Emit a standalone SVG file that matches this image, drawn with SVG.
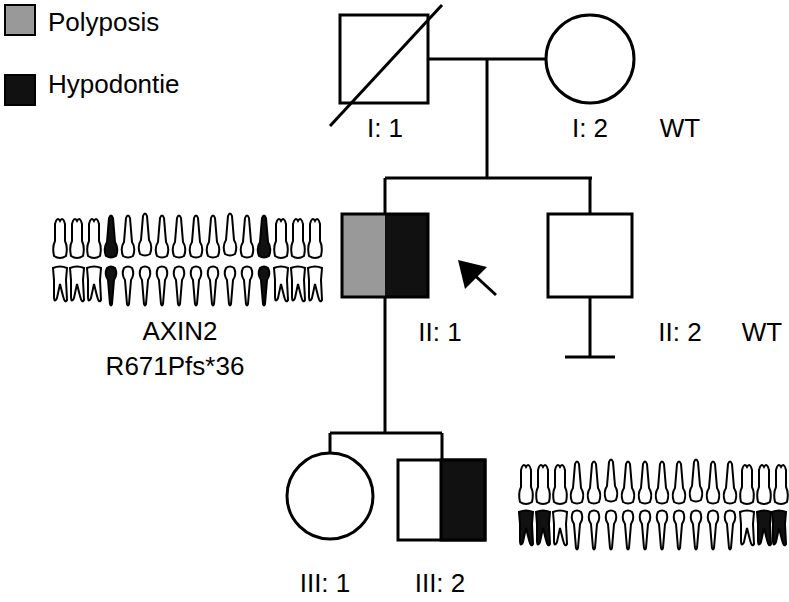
<svg xmlns="http://www.w3.org/2000/svg" xmlns:xlink="http://www.w3.org/1999/xlink" width="789" height="602" viewBox="0 0 789 602">
<style>
.s{fill:#fff;stroke:#000;stroke-width:3}
.l{stroke:#000;stroke-width:3;fill:none}
.t{font-family:"Liberation Sans",Arial,sans-serif;font-size:26px;fill:#000}
.tw{fill:#fff;stroke:#000;stroke-width:2}
.tb{fill:#111;stroke:#000;stroke-width:2}
</style>
<defs>
<path id="um" d="M2,40 Q0,31 3,25 L3,8 Q5,0 8,5 Q11,0 13,8 L13,25 Q16,31 14,40 Q8,44 2,40 Z"/>
<path id="us" d="M3,42 Q0,34 4,28 L6,4 Q8,-1 10,4 L12,28 Q16,34 13,42 Q8,45 3,42 Z"/>
<path id="lm" d="M1,2 Q8,-1 15,2 L14,14 L15,34 Q13,38 11,30 L8,18 L5,32 Q2,38 2,30 L2,14 Z"/>
<path id="ls" d="M4,2 Q8,-1 12,2 Q15,8 11,14 L9,38 Q8,41 7,38 L5,14 Q1,8 4,2 Z"/>
</defs>
<g id="legend">
<rect x="5" y="5" width="30" height="30" fill="#999" stroke="#000" stroke-width="2"/>
<text class="t" x="48" y="31">Polyposis</text>
<rect x="5" y="75" width="30" height="30" fill="#111" stroke="#000" stroke-width="2"/>
<text class="t" x="48" y="93">Hypodontie</text>
</g>
<g id="connectors">
<line class="l" x1="428" y1="59" x2="546" y2="59"/>
<line class="l" x1="487" y1="59" x2="487" y2="178"/>
<line class="l" x1="385" y1="178" x2="592" y2="178"/>
<line class="l" x1="385" y1="178" x2="385" y2="214"/>
<line class="l" x1="590" y1="178" x2="590" y2="214"/>
<line class="l" x1="590" y1="297" x2="590" y2="357"/>
<line class="l" x1="565" y1="357" x2="615" y2="357"/>
<line class="l" x1="385" y1="297" x2="385" y2="433"/>
<line class="l" x1="330" y1="433" x2="442" y2="433"/>
<line class="l" x1="330" y1="433" x2="330" y2="453"/>
<line class="l" x1="442" y1="433" x2="442" y2="460"/>
<path d="M496,295 L470,271" class="l" stroke-width="5"/>
<polygon points="458,260 487,267 465,289" fill="#000"/>
</g>
<g id="I1"><rect class="s" x="340" y="15" width="88" height="88"/><line class="l" x1="330" y1="126" x2="442" y2="5"/><text class="t" x="385" y="137" text-anchor="middle">I: 1</text></g>
<g id="I2"><circle class="s" cx="590" cy="59" r="44"/><text class="t" x="590" y="137" text-anchor="middle">I: 2</text><text class="t" x="680" y="137" text-anchor="middle">WT</text></g>
<g id="II1"><rect x="342" y="214" width="43" height="83" fill="#999"/><rect x="385" y="214" width="43" height="83" fill="#111"/><rect x="342" y="214" width="86" height="83" fill="none" stroke="#000" stroke-width="3"/><text class="t" x="440" y="341" text-anchor="middle">II: 1</text>
<text class="t" x="180" y="340" text-anchor="middle">AXIN2</text><text class="t" x="175" y="375" text-anchor="middle">R671Pfs*36</text></g>
<g id="II2"><rect class="s" x="548" y="214" width="84" height="83"/><text class="t" x="680" y="341" text-anchor="middle">II: 2</text><text class="t" x="762" y="341" text-anchor="middle">WT</text></g>
<g id="III1"><circle class="s" cx="330" cy="496" r="43"/><text class="t" x="325" y="592" text-anchor="middle">III: 1</text></g>
<g id="III2"><rect class="s" x="398" y="460" width="87" height="80"/><rect x="441" y="460" width="44" height="80" fill="#111" stroke="#000" stroke-width="3"/><text class="t" x="440" y="592" text-anchor="middle">III: 2</text></g>
<g id="teeth1">
<use href="#um" class="tw" x="52" y="216"/><use href="#um" class="tw" x="69" y="216"/><use href="#um" class="tw" x="86" y="216"/><use href="#us" class="tb" x="103" y="214"/>
<use href="#us" class="tw" x="120" y="214"/><use href="#us" class="tw" x="137" y="212"/><use href="#us" class="tw" x="154" y="214"/><use href="#us" class="tw" x="171" y="214"/>
<use href="#us" class="tw" x="188" y="214"/><use href="#us" class="tw" x="205" y="214"/><use href="#us" class="tw" x="222" y="212"/><use href="#us" class="tw" x="239" y="214"/>
<use href="#us" class="tb" x="256" y="214"/><use href="#um" class="tw" x="273" y="216"/><use href="#um" class="tw" x="290" y="216"/><use href="#um" class="tw" x="307" y="216"/>
<use href="#lm" class="tw" x="52" y="266"/><use href="#lm" class="tw" x="69" y="266"/><use href="#lm" class="tw" x="86" y="266"/><use href="#ls" class="tb" x="103" y="266"/>
<use href="#ls" class="tw" x="120" y="266"/><use href="#ls" class="tw" x="137" y="266"/><use href="#ls" class="tw" x="154" y="266"/><use href="#ls" class="tw" x="171" y="266"/>
<use href="#ls" class="tw" x="188" y="266"/><use href="#ls" class="tw" x="205" y="266"/><use href="#ls" class="tw" x="222" y="266"/><use href="#ls" class="tw" x="239" y="266"/>
<use href="#ls" class="tb" x="256" y="266"/><use href="#lm" class="tw" x="273" y="266"/><use href="#lm" class="tw" x="290" y="266"/><use href="#lm" class="tw" x="307" y="266"/>
</g>
<g id="teeth2">
<use href="#um" class="tw" x="518" y="462"/><use href="#um" class="tw" x="535" y="462"/><use href="#um" class="tw" x="552" y="462"/><use href="#us" class="tw" x="569" y="460"/>
<use href="#us" class="tw" x="586" y="460"/><use href="#us" class="tw" x="603" y="458"/><use href="#us" class="tw" x="620" y="460"/><use href="#us" class="tw" x="637" y="460"/>
<use href="#us" class="tw" x="654" y="460"/><use href="#us" class="tw" x="671" y="460"/><use href="#us" class="tw" x="688" y="458"/><use href="#us" class="tw" x="705" y="460"/>
<use href="#us" class="tw" x="722" y="460"/><use href="#um" class="tw" x="739" y="462"/><use href="#um" class="tw" x="756" y="462"/><use href="#um" class="tw" x="773" y="462"/>
<use href="#lm" class="tb" x="518" y="510"/><use href="#lm" class="tb" x="535" y="510"/><use href="#lm" class="tw" x="552" y="510"/><use href="#ls" class="tw" x="569" y="510"/>
<use href="#ls" class="tw" x="586" y="510"/><use href="#ls" class="tw" x="603" y="510"/><use href="#ls" class="tw" x="620" y="510"/><use href="#ls" class="tw" x="637" y="510"/>
<use href="#ls" class="tw" x="654" y="510"/><use href="#ls" class="tw" x="671" y="510"/><use href="#ls" class="tw" x="688" y="510"/><use href="#ls" class="tw" x="705" y="510"/>
<use href="#ls" class="tw" x="722" y="510"/><use href="#lm" class="tw" x="739" y="510"/><use href="#lm" class="tb" x="756" y="510"/><use href="#lm" class="tb" x="771" y="510"/>
</g>
</svg>
